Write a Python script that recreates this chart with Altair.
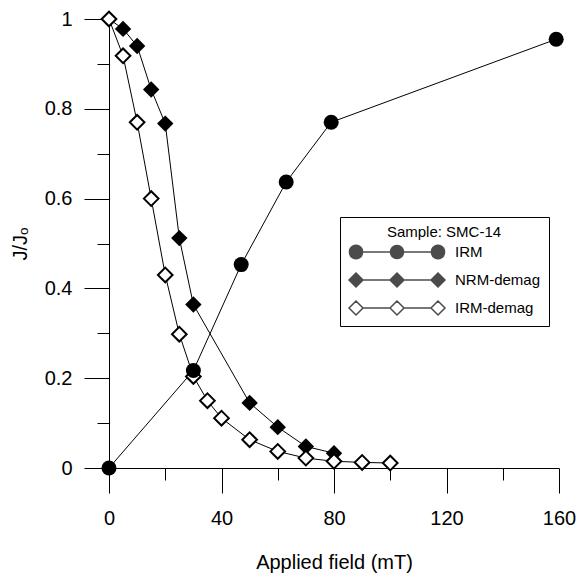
import altair as alt
import pandas as pd

# ---- data ----
series = ["IRM", "NRM-demag", "IRM-demag"]
irm_x = [0, 30, 47, 63, 79, 159]
irm_y = [0.0, 0.217, 0.453, 0.637, 0.770, 0.955]
nrm_x = [0, 5, 10, 15, 20, 25, 30, 50, 60, 70, 80]
nrm_y = [1.0, 0.978, 0.940, 0.843, 0.767, 0.512, 0.364, 0.145, 0.091, 0.048, 0.033]
irmd_x = [0, 5, 10, 15, 20, 25, 30, 35, 40, 50, 60, 70, 80, 90, 100]
irmd_y = [1.0, 0.918, 0.770, 0.600, 0.430, 0.298, 0.204, 0.150, 0.111, 0.063, 0.037, 0.022, 0.015, 0.0125, 0.011]

x_major = [0, 40, 80, 120, 160]
x_minor = [20, 60, 100, 140]
y_major = [0, 0.2, 0.4, 0.6, 0.8, 1.0]
y_minor = [0.1, 0.3, 0.5, 0.7, 0.9]

FONT = "Liberation Sans"

irm = pd.DataFrame({"x": irm_x, "y": irm_y, "s": series[0]})
nrm = pd.DataFrame({"x": nrm_x, "y": nrm_y, "s": series[1]})
irmd = pd.DataFrame({"x": irmd_x, "y": irmd_y, "s": series[2]})
alld = pd.concat([irm, nrm, irmd], ignore_index=True)

xs = alt.Scale(domain=[0, 160], nice=False, zero=False)
ys = alt.Scale(domain=[0, 1], nice=False, zero=False)

major_x_axis = alt.Axis(values=x_major, tickSize=25, labelPadding=15, labelFontSize=20,
                        labelFont=FONT, labelColor="black", title="Applied field (mT)",
                        titleFont=FONT, titleFontSize=20, titleFontWeight="normal",
                        titleColor="black", titlePadding=24, domainColor="black",
                        tickColor="black", grid=False, orient="bottom", labelFlush=False)
major_y_axis = alt.Axis(values=y_major, tickSize=25, labelPadding=12, labelFontSize=20,
                        labelFont=FONT, labelColor="black", format="~g", title="J/J\u2092",
                        titleFont=FONT, titleFontSize=20, titleFontWeight="normal",
                        titleColor="black", titlePadding=14, domainColor="black",
                        tickColor="black", grid=False, orient="left", labelFlush=False)
minor_x_axis = alt.Axis(values=x_minor, tickSize=12, labels=False, domain=False,
                        title=None, tickColor="black", grid=False, orient="bottom")
minor_y_axis = alt.Axis(values=y_minor, tickSize=12, labels=False, domain=False,
                        title=None, tickColor="black", grid=False, orient="left")

# custom legend symbols: three markers joined by a line (unit = 7 px)
K = 7.0
c = [-41 / K, 0.0, 41 / K]
def circ(cx, r):
    return f"M{cx - r:.3f},0A{r:.3f},{r:.3f} 0 1 0 {cx + r:.3f},0A{r:.3f},{r:.3f} 0 1 0 {cx - r:.3f},0Z"
def diam(cx, r):
    return f"M{cx - r:.3f},0L{cx:.3f},{-r:.3f}L{cx + r:.3f},0L{cx:.3f},{r:.3f}Z"
def seg(a, b):
    return f"M{a:.3f},0L{b:.3f},0"
rc = 6.5 / K
rd = 7.0 / K
path_circ = "".join(circ(x, rc) for x in c) + seg(c[0] + rc, c[1] - rc) + seg(c[1] + rc, c[2] - rc)
path_diam = "".join(diam(x, rd) for x in c) + seg(c[0] + rd, c[1] - rd) + seg(c[1] + rd, c[2] - rd)

legend = alt.Legend(title="Sample: SMC-14", orient="none", legendX=231, legendY=198,
                    titleFont=FONT, titleFontSize=15, titleFontWeight="normal",
                    titleColor="black", titleAnchor="middle", titlePadding=4,
                    labelFont=FONT, labelFontSize=15, labelColor="black",
                    symbolSize=K * K * 4, symbolStrokeColor="black", symbolStrokeWidth=1.5,
                    symbolOffset=41, labelOffset=50, rowPadding=8,
                    strokeColor="black", fillColor="white", padding=8, cornerRadius=0)

base_x = alt.X("x:Q", scale=xs, axis=None)
base_y = alt.Y("y:Q", scale=ys, axis=None)

first = alt.Chart(irm).mark_line(color="black", strokeWidth=1).encode(
    x=alt.X("x:Q", scale=xs, axis=major_x_axis),
    y=alt.Y("y:Q", scale=ys, axis=major_y_axis),
)
lines = [
    alt.Chart(d).mark_line(color="black", strokeWidth=1).encode(x=base_x, y=base_y)
    for d in (nrm, irmd)
]
pts_nrm = alt.Chart(nrm).mark_point(shape="diamond", filled=True, color="black",
                                    size=270, opacity=1).encode(x=base_x, y=base_y)
pts_irmd = alt.Chart(irmd).mark_point(shape="diamond", filled=False, fill="white",
                                      stroke="black", strokeWidth=2, size=215,
                                      opacity=1).encode(x=base_x, y=base_y)
pts_irm = alt.Chart(irm).mark_point(shape="circle", filled=True, color="black",
                                    size=225, opacity=1).encode(x=base_x, y=base_y)

guide = alt.Chart(alld).transform_filter("false").mark_point(filled=True).encode(
    x=alt.X("x:Q", scale=xs, axis=minor_x_axis),
    y=alt.Y("y:Q", scale=ys, axis=minor_y_axis),
    color=alt.Color("s:N", scale=alt.Scale(domain=series, range=["black", "black", "white"]),
                    legend=legend),
    shape=alt.Shape("s:N", scale=alt.Scale(domain=series, range=[path_circ, path_diam, path_diam]),
                    legend=legend),
)

chart = alt.layer(first, *lines, pts_nrm, pts_irmd, pts_irm, guide).resolve_axis(
    x="independent", y="independent"
).properties(
    width=450, height=449,
    autosize=alt.AutoSizeParams(type="none"),
    padding={"left": 109, "top": 19, "right": 20, "bottom": 115},
    background="white",
).configure_view(stroke=None)

chart.save("out.html", embed_options={"renderer": "svg", "actions": False})
